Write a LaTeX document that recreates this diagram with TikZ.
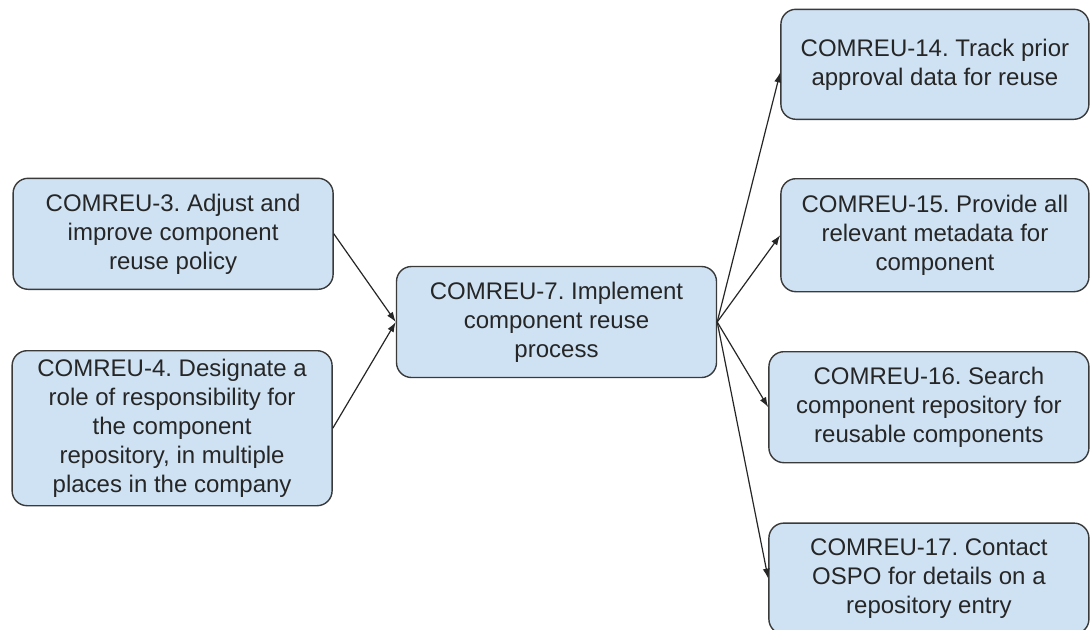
\documentclass[tikz,border=0pt]{standalone}
\usepackage{fontspec}
\setmainfont{Liberation Sans}
\usetikzlibrary{arrows.meta,positioning}
\definecolor{boxfill}{HTML}{CFE2F3}
\definecolor{boxline}{HTML}{3A3A3A}
\definecolor{boxtext}{HTML}{262626}
\frenchspacing

\begin{document}
\begin{tikzpicture}[
    x=1pt,y=-1pt,
    box/.style={rectangle,draw=boxline,fill=boxfill,line width=1.4pt,rounded corners=15pt,align=center,minimum width=320pt,minimum height=111pt,text=boxtext,font=\fontsize{24}{29}\selectfont},
    link/.style={->,line width=1.2pt,draw=black!85},
    >={Latex[length=10pt,width=7pt]}]
    \useasboundingbox (0,0) rectangle (1092,629);
    \node[box] (c7) at (556.5,322) {COMREU-7. Implement\\component reuse\\process};
    \node[box,above left=32pt and 62pt of c7.west] (c3) {COMREU-3. Adjust and\\improve component\\reuse policy};
    \node[box,below left=28pt and 63pt of c7.west,minimum height=155pt] (c4) {COMREU-4. Designate a\\role of responsibility for\\the component\\repository, in multiple\\places in the company};
    \node[box,above right=202pt and 63pt of c7.east,minimum width=308pt,minimum height=110pt] (c14) {COMREU-14. Track prior\\approval data for reuse};
    \node[box,below=58pt of c14,minimum width=308pt,minimum height=113pt] (c15) {COMREU-15. Provide all\\relevant metadata for\\component};
    \node[box,below right=29pt and 51pt of c7.east] (c16) {COMREU-16. Search\\component repository for\\reusable components};
    \node[box,below=59pt of c16] (c17) {COMREU-17. Contact\\OSPO for details on a\\repository entry};

    \draw[link] (c3.east) -- (c7.west);
    \draw[link] (c4.east) -- (c7.west);
    \foreach \n/\a in {c14/183,c15/west,c16/west,c17/west}
      \draw[link] (c7.east) -- (\n.\a);
\end{tikzpicture}
\end{document}
